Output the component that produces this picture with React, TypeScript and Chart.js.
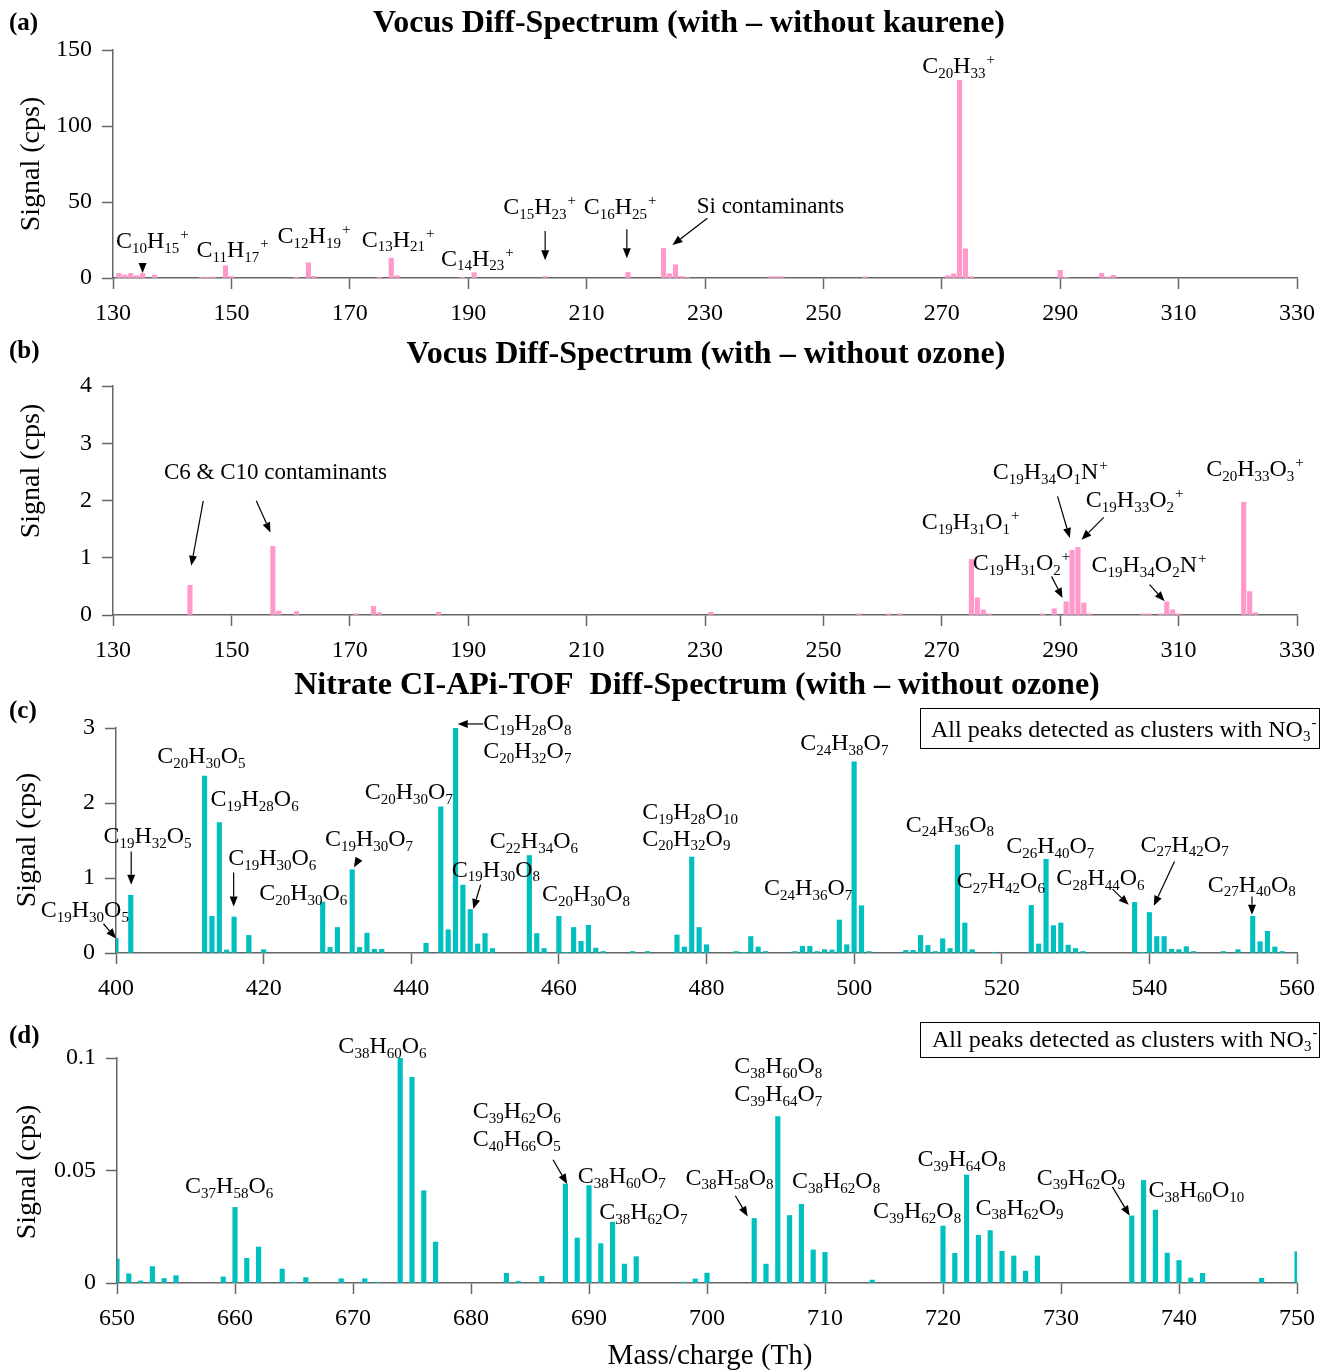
import React, { useEffect, useRef } from 'react';
import { Chart, registerables } from 'chart.js';
Chart.register(...registerables);

const FONT = '"Liberation Serif", "Times New Roman", serif';
const PINK = '#ff99cc';
const CYAN = '#00bfbf';
const AXIS = '#666666';

// ---------- Panel (a) data ----------
const massA = [131,132,133,134,135,137,145,146,147,149,150,161,163,164,175,177,178,189,191,203,217,223,224,225,226,227,241,242,243,257,271,272,273,274,275,290,291,297,298,299];
const sigA = [3,2,3,1.5,3,2,0.5,0.5,0.6,8,1,0.5,10,1,0.5,13,1.5,0.5,3.5,1,3.7,19.4,2.8,8.7,1,0.6,0.9,0.9,0.9,0.8,1.5,2.8,130,19.2,0.9,5,0.5,3,0.7,1.7];

// ---------- Panel (b) data ----------
const massB = [143,157,158,161,171,174,175,185,231,256,261,263,275,276,277,278,287,289,291,292,293,294,295,304,305,307,308,309,310,321,322,323];
const sigB = [0.52,1.2,0.07,0.06,0.02,0.15,0.04,0.05,0.05,0.02,0.02,0.02,0.97,0.30,0.09,0.02,0.02,0.11,0.23,1.13,1.18,0.21,0.02,0.02,0.02,0.02,0.23,0.09,0.02,1.97,0.41,0.04];

// ---------- Panel (c) data ----------
const massC = [400,402,412,413,414,415,416,418,420,428,429,430,432,433,434,435,436,442,444,445,446,447,448,449,450,451,456,457,458,460,461,462,463,464,465,466,470,472,476,477,478,479,480,484,485,486,487,488,492,493,494,495,496,497,498,499,500,501,502,507,508,509,510,511,512,513,514,515,516,519,524,525,526,527,528,529,530,531,538,539,540,541,542,543,544,545,546,550,552,554,555,556,557,558];
const sigC = [0.195,0.77,2.36,0.49,1.74,0.04,0.48,0.235,0.045,0.68,0.075,0.34,1.11,0.075,0.265,0.05,0.05,0.13,1.95,0.31,3.0,0.905,0.58,0.12,0.26,0.06,1.30,0.26,0.06,0.49,0.01,0.34,0.155,0.37,0.065,0.02,0.02,0.02,0.24,0.08,1.28,0.34,0.11,0.02,0.01,0.22,0.08,0.02,0.02,0.09,0.09,0.02,0.045,0.04,0.44,0.11,2.55,0.63,0.02,0.035,0.035,0.235,0.10,0.02,0.19,0.06,1.44,0.40,0.045,0.01,0.635,0.12,1.25,0.365,0.40,0.105,0.06,0.02,0.675,0.01,0.54,0.22,0.22,0.05,0.045,0.085,0.02,0.02,0.045,0.49,0.15,0.29,0.08,0.02];

// ---------- Panel (d) data ----------
const massD = [650,651,652,653,654,655,659,660,661,662,664,665,666,669,671,672,674,675,676,677,683,684,686,688,689,690,691,692,693,694,698,699,700,704,705,706,707,708,709,710,714,720,721,722,723,724,725,726,727,728,736,737,738,739,740,741,742,747,750];
const sigD = [0.0107,0.0041,0.0009,0.0073,0.002,0.0033,0.0027,0.0336,0.011,0.016,0.0062,0.0004,0.0024,0.0019,0.0019,0.0004,0.1,0.0914,0.041,0.0182,0.0043,0.0007,0.003,0.044,0.020,0.0433,0.0175,0.027,0.0084,0.0117,0.0004,0.0018,0.0044,0.0287,0.0084,0.074,0.030,0.035,0.0147,0.0136,0.0013,0.0253,0.0132,0.048,0.0212,0.0233,0.0141,0.012,0.0053,0.012,0.0298,0.0456,0.0324,0.0133,0.010,0.0022,0.0043,0.0021,0.0139];

// ---------- Annotations (data coordinates: mass, signal) ----------
type Lab = { t: string; x: number; y: number };
type Arr = { x1: number; y1: number; x2: number; y2: number };

const labelsA: Lab[] = [
  { t: 'C_{10}H_{15}^{+}', x: 130.5, y: 19.7 },
  { t: 'C_{11}H_{17}^{+}', x: 144.1, y: 13.6 },
  { t: 'C_{12}H_{19}^{+}', x: 157.8, y: 22.8 },
  { t: 'C_{13}H_{21}^{+}', x: 172, y: 20.6 },
  { t: 'C_{14}H_{23}^{+}', x: 185.4, y: 8.1 },
  { t: 'C_{15}H_{23}^{+}', x: 195.9, y: 41.9 },
  { t: 'C_{16}H_{25}^{+}', x: 209.5, y: 41.9 },
  { t: 'Si contaminants', x: 228.6, y: 43 },
  { t: 'C_{20}H_{33}^{+}', x: 266.7, y: 134.7 },
];
const arrowsA: Arr[] = [
  { x1: 135, y1: 9.9, x2: 135, y2: 3.3 },
  { x1: 203, y1: 31, x2: 203, y2: 11.7 },
  { x1: 216.8, y1: 32, x2: 216.8, y2: 13 },
  { x1: 230.4, y1: 39.3, x2: 224.5, y2: 21.7 },
];

const labelsB: Lab[] = [
  { t: 'C6 & C10 contaminants', x: 138.6, y: 2.373 },
  { t: 'C_{19}H_{34}O_{1}N^{+}', x: 278.6, y: 2.379 },
  { t: 'C_{19}H_{33}O_{2}^{+}', x: 294.33, y: 1.879 },
  { t: 'C_{19}H_{31}O_{1}^{+}', x: 266.63, y: 1.507 },
  { t: 'C_{19}H_{31}O_{2}^{+}', x: 275.22, y: 0.791 },
  { t: 'C_{19}H_{34}O_{2}N^{+}', x: 295.28, y: 0.75 },
  { t: 'C_{20}H_{33}O_{3}^{+}', x: 314.66, y: 2.42 },
];
const arrowsB: Arr[] = [
  { x1: 145.25, y1: 1.995, x2: 143.22, y2: 0.861 },
  { x1: 154.2, y1: 1.995, x2: 156.6, y2: 1.443 },
  { x1: 289.55, y1: 2.071, x2: 291.63, y2: 1.344 },
  { x1: 297.36, y1: 1.704, x2: 293.6, y2: 1.315 },
  { x1: 288.54, y1: 0.675, x2: 290.39, y2: 0.297 },
  { x1: 305.1, y1: 0.529, x2: 307.64, y2: 0.239 },
];

const labelsC: Lab[] = [
  { t: 'C_{19}H_{30}O_{5}', x: 389.8, y: 0.483 },
  { t: 'C_{19}H_{32}O_{5}', x: 398.3, y: 1.465 },
  { t: 'C_{20}H_{30}O_{5}', x: 405.6, y: 2.53 },
  { t: 'C_{19}H_{28}O_{6}', x: 412.8, y: 1.961 },
  { t: 'C_{19}H_{30}O_{6}', x: 415.2, y: 1.176 },
  { t: 'C_{20}H_{30}O_{6}', x: 419.4, y: 0.71 },
  { t: 'C_{19}H_{30}O_{7}', x: 428.3, y: 1.429 },
  { t: 'C_{20}H_{30}O_{7}', x: 433.7, y: 2.05 },
  { t: 'C_{19}H_{28}O_{8}', x: 449.75, y: 2.973 },
  { t: 'C_{20}H_{32}O_{7}', x: 449.75, y: 2.597 },
  { t: 'C_{22}H_{34}O_{6}', x: 450.65, y: 1.398 },
  { t: 'C_{19}H_{30}O_{8}', x: 445.5, y: 1.02 },
  { t: 'C_{20}H_{30}O_{8}', x: 457.7, y: 0.687 },
  { t: 'C_{19}H_{28}O_{10}', x: 471.3, y: 1.784 },
  { t: 'C_{20}H_{32}O_{9}', x: 471.3, y: 1.433 },
  { t: 'C_{24}H_{36}O_{7}', x: 487.8, y: 0.776 },
  { t: 'C_{24}H_{38}O_{7}', x: 492.7, y: 2.707 },
  { t: 'C_{24}H_{36}O_{8}', x: 507.0, y: 1.619 },
  { t: 'C_{27}H_{42}O_{6}', x: 513.9, y: 0.865 },
  { t: 'C_{26}H_{40}O_{7}', x: 520.6, y: 1.331 },
  { t: 'C_{28}H_{44}O_{6}', x: 527.4, y: 0.909 },
  { t: 'C_{27}H_{42}O_{7}', x: 538.8, y: 1.353 },
  { t: 'C_{27}H_{40}O_{8}', x: 547.9, y: 0.82 },
];
const arrowsC: Arr[] = [
  { x1: 398.3, y1: 0.39, x2: 400, y2: 0.194 },
  { x1: 402.06, y1: 1.353, x2: 402.06, y2: 0.909 },
  { x1: 415.94, y1: 1.073, x2: 415.94, y2: 0.62 },
  { x1: 432.78, y1: 1.233, x2: 432.24, y2: 1.14 },
  { x1: 449.75, y1: 3.054, x2: 446.3, y2: 3.054 },
  { x1: 449.4, y1: 0.91, x2: 448.4, y2: 0.586 },
  { x1: 535, y1: 0.852, x2: 537.2, y2: 0.643 },
  { x1: 543.4, y1: 1.22, x2: 540.6, y2: 0.63 },
  { x1: 553.9, y1: 0.754, x2: 553.9, y2: 0.51 },
];

const labelsD: Lab[] = [
  { t: 'C_{37}H_{58}O_{6}', x: 655.77, y: 0.04 },
  { t: 'C_{38}H_{60}O_{6}', x: 668.76, y: 0.1022 },
  { t: 'C_{39}H_{62}O_{6}', x: 680.14, y: 0.0733 },
  { t: 'C_{40}H_{66}O_{5}', x: 680.14, y: 0.061 },
  { t: 'C_{38}H_{60}O_{7}', x: 689.04, y: 0.0444 },
  { t: 'C_{38}H_{62}O_{7}', x: 690.87, y: 0.0284 },
  { t: 'C_{38}H_{58}O_{8}', x: 698.17, y: 0.0437 },
  { t: 'C_{38}H_{60}O_{8}', x: 702.3, y: 0.0933 },
  { t: 'C_{39}H_{64}O_{7}', x: 702.3, y: 0.081 },
  { t: 'C_{38}H_{62}O_{8}', x: 707.2, y: 0.0422 },
  { t: 'C_{39}H_{62}O_{8}', x: 714.07, y: 0.0289 },
  { t: 'C_{39}H_{64}O_{8}', x: 717.84, y: 0.0521 },
  { t: 'C_{38}H_{62}O_{9}', x: 722.75, y: 0.0304 },
  { t: 'C_{39}H_{62}O_{9}', x: 727.95, y: 0.0437 },
  { t: 'C_{38}H_{60}O_{10}', x: 737.42, y: 0.0382 },
];
const arrowsD: Arr[] = [
  { x1: 686.95, y1: 0.0548, x2: 688.15, y2: 0.044 },
  { x1: 702.4, y1: 0.0388, x2: 703.45, y2: 0.0296 },
  { x1: 734.36, y1: 0.0427, x2: 735.82, y2: 0.0299 },
];

const TITLE_A = 'Vocus Diff-Spectrum (with – without kaurene)';
const TITLE_B = 'Vocus Diff-Spectrum (with – without ozone)';
const TITLE_C = 'Nitrate CI-APi-TOF  Diff-Spectrum (with – without ozone)';
const LEGEND_NOTE = 'All peaks detected as clusters with NO_{3}^{-}';
const Y_TITLE = 'Signal (cps)';
const X_TITLE = 'Mass/charge (Th)';

// ---------- drawing helpers ----------
function parseRich(s: string) {
  const out: { k: string; t: string }[] = [];
  const re = /_\{([^}]*)\}|\^\{([^}]*)\}|([^_^]+)/g;
  let m: RegExpExecArray | null;
  while ((m = re.exec(s))) {
    if (m[1] !== undefined) out.push({ k: 'sub', t: m[1] });
    else if (m[2] !== undefined) out.push({ k: 'sup', t: m[2] });
    else out.push({ k: 'n', t: m[3] });
  }
  return out;
}

function drawRich(ctx: CanvasRenderingContext2D, s: string, x: number, y: number, size: number) {
  const parts = parseRich(s);
  let cx = x;
  ctx.textAlign = 'left';
  ctx.textBaseline = 'alphabetic';
  ctx.fillStyle = '#000';
  for (const p of parts) {
    if (p.k === 'n') {
      ctx.font = `${size}px ${FONT}`;
      ctx.fillText(p.t, cx, y);
      cx += ctx.measureText(p.t).width;
    } else if (p.k === 'sub') {
      ctx.font = `${Math.round(size * 0.64)}px ${FONT}`;
      ctx.fillText(p.t, cx, y + size * 0.2);
      cx += ctx.measureText(p.t).width;
    } else {
      ctx.font = `${Math.round(size * 0.64)}px ${FONT}`;
      ctx.fillText(p.t, cx + 1, y - size * 0.38);
      cx += ctx.measureText(p.t).width + 1;
    }
  }
}

function drawArrow(ctx: CanvasRenderingContext2D, x1: number, y1: number, x2: number, y2: number) {
  const ang = Math.atan2(y2 - y1, x2 - x1);
  const hl = 10, hw = 4;
  const bx = x2 - hl * Math.cos(ang), by = y2 - hl * Math.sin(ang);
  ctx.strokeStyle = '#000';
  ctx.fillStyle = '#000';
  ctx.lineWidth = 1.2;
  ctx.beginPath();
  ctx.moveTo(x1, y1);
  ctx.lineTo(bx, by);
  ctx.stroke();
  ctx.beginPath();
  ctx.moveTo(x2, y2);
  ctx.lineTo(bx + hw * Math.sin(ang), by - hw * Math.cos(ang));
  ctx.lineTo(bx - hw * Math.sin(ang), by + hw * Math.cos(ang));
  ctx.closePath();
  ctx.fill();
}

type Extra = {
  title?: { text: string; x: number; y: number };
  panel: { text: string; y: number };
  yTitle: { x: number; y: number };
  xTitle?: { x: number; y: number };
  note?: { x1: number; y1: number; x2: number; y2: number; tx: number; ty: number };
};

type PanelCfg = {
  top: number; h: number; padTop: number; xH: number; yW: number; padRight: number;
  xmin: number; xmax: number; xstep: number; ymax: number; ystep: number;
  mass: number[]; sig: number[]; color: string;
  labels: Lab[]; arrows: Arr[]; extra: Extra;
};

const panels: PanelCfg[] = [
  {
    top: 0, h: 340, padTop: 50, xH: 62, yW: 113, padRight: 28,
    xmin: 130, xmax: 330, xstep: 20, ymax: 150, ystep: 50,
    mass: massA, sig: sigA, color: PINK, labels: labelsA, arrows: arrowsA,
    extra: { title: { text: TITLE_A, x: 689, y: 24 }, panel: { text: '(a)', y: 24 }, yTitle: { x: 32, y: 164 } },
  },
  {
    top: 340, h: 330, padTop: 46, xH: 55, yW: 113, padRight: 28,
    xmin: 130, xmax: 330, xstep: 20, ymax: 4, ystep: 1,
    mass: massB, sig: sigB, color: PINK, labels: labelsB, arrows: arrowsB,
    extra: { title: { text: TITLE_B, x: 706, y: 15 }, panel: { text: '(b)', y: 12 }, yTitle: { x: 32, y: 131 } },
  },
  {
    top: 670, h: 340, padTop: 58, xH: 57, yW: 116, padRight: 22,
    xmin: 400, xmax: 560, xstep: 20, ymax: 3, ystep: 1,
    mass: massC, sig: sigC, color: CYAN, labels: labelsC, arrows: arrowsC,
    extra: {
      title: { text: TITLE_C, x: 697, y: 16 }, panel: { text: '(c)', y: 42 }, yTitle: { x: 28, y: 170 },
      note: { x1: 920.5, y1: 38.5, x2: 1319.5, y2: 78.5, tx: 931, ty: 66.5 },
    },
  },
  {
    top: 1010, h: 360, padTop: 48, xH: 87, yW: 117, padRight: 22,
    xmin: 650, xmax: 750, xstep: 10, ymax: 0.1, ystep: 0.05,
    mass: massD, sig: sigD, color: CYAN, labels: labelsD, arrows: arrowsD,
    extra: {
      panel: { text: '(d)', y: 27 }, yTitle: { x: 28, y: 162 }, xTitle: { x: 710, y: 346 },
      note: { x1: 920.5, y1: 12.5, x2: 1319.5, y2: 47.5, tx: 932, ty: 36.5 },
    },
  },
];

function Panel({ cfg }: { cfg: PanelCfg }) {
  const ref = useRef<HTMLCanvasElement | null>(null);
  useEffect(() => {
    const canvas = ref.current;
    if (!canvas) return;
    const annot = {
      id: 'annot',
      afterDraw(chart: any) {
        const ctx: CanvasRenderingContext2D = chart.ctx;
        const xs = chart.scales.x, ys = chart.scales.y;
        ctx.save();
        for (const a of cfg.arrows) {
          drawArrow(ctx, xs.getPixelForValue(a.x1), ys.getPixelForValue(a.y1), xs.getPixelForValue(a.x2), ys.getPixelForValue(a.y2));
        }
        for (const l of cfg.labels) {
          const plain = l.t.indexOf('_') < 0 && l.t.indexOf('^') < 0;
          drawRich(ctx, l.t, xs.getPixelForValue(l.x), ys.getPixelForValue(l.y), plain ? 23 : 24);
        }
        const e = cfg.extra;
        ctx.fillStyle = '#000';
        if (e.title) {
          ctx.font = `bold 32px ${FONT}`;
          ctx.textAlign = 'center';
          ctx.textBaseline = 'middle';
          ctx.fillText(e.title.text, e.title.x, e.title.y);
        }
        ctx.font = `bold 25px ${FONT}`;
        ctx.textAlign = 'left';
        ctx.textBaseline = 'middle';
        ctx.fillText(e.panel.text, 9, e.panel.y);
        ctx.save();
        ctx.translate(e.yTitle.x, e.yTitle.y);
        ctx.rotate(-Math.PI / 2);
        ctx.font = `28px ${FONT}`;
        ctx.textAlign = 'center';
        ctx.textBaseline = 'middle';
        ctx.fillText(Y_TITLE, 0, 0);
        ctx.restore();
        if (e.xTitle) {
          ctx.font = `29px ${FONT}`;
          ctx.textAlign = 'center';
          ctx.textBaseline = 'middle';
          ctx.fillText(X_TITLE, e.xTitle.x, e.xTitle.y);
        }
        if (e.note) {
          ctx.strokeStyle = '#000';
          ctx.lineWidth = 1;
          ctx.strokeRect(e.note.x1, e.note.y1, e.note.x2 - e.note.x1, e.note.y2 - e.note.y1);
          drawRich(ctx, LEGEND_NOTE, e.note.tx, e.note.ty, 24);
        }
        ctx.restore();
      },
    };
    const tickFont = { family: FONT, size: 24 };
    const chart = new Chart(canvas, {
      type: 'bar',
      data: {
        datasets: [{
          data: cfg.mass.map((m, i) => ({ x: m, y: cfg.sig[i] })),
          backgroundColor: cfg.color,
          borderWidth: 0,
          barThickness: 4.5,
        }],
      },
      options: {
        responsive: false,
        animation: false,
        devicePixelRatio: 1,
        layout: { padding: { top: cfg.padTop, right: cfg.padRight, left: 0, bottom: 0 } },
        plugins: { legend: { display: false }, tooltip: { enabled: false }, title: { display: false } },
        scales: {
          x: {
            type: 'linear', min: cfg.xmin, max: cfg.xmax, offset: false,
            afterFit: (s: any) => { s.height = cfg.xH; },
            ticks: { stepSize: cfg.xstep, font: tickFont, color: '#000', padding: 10, maxRotation: 0, autoSkip: false },
            grid: { offset: false, drawOnChartArea: false, drawTicks: true, tickLength: 11, tickColor: AXIS, tickWidth: 1.5 },
            border: { display: true, color: AXIS, width: 1.5 },
          },
          y: {
            type: 'linear', min: 0, max: cfg.ymax,
            afterFit: (s: any) => { s.width = cfg.yW; },
            ticks: {
              stepSize: cfg.ystep, font: tickFont, color: '#000', padding: 10,
              callback: (v: any) => String(+Number(v).toFixed(3)),
            },
            grid: { drawOnChartArea: false, drawTicks: true, tickLength: 11, tickColor: AXIS, tickWidth: 1.5 },
            border: { display: true, color: AXIS, width: 1.5 },
          },
        },
      } as any,
      plugins: [annot],
    });
    return () => chart.destroy();
  }, [cfg]);
  return (
    <canvas
      ref={ref}
      width={1325}
      height={cfg.h}
      style={{ position: 'absolute', left: 0, top: cfg.top, width: 1325, height: cfg.h }}
    />
  );
}

export default function App() {
  return (
    <div style={{ position: 'absolute', left: 0, top: 0, width: 1325, height: 1370, background: '#fff', overflow: 'hidden' }}>
      {panels.map((p, i) => <Panel key={i} cfg={p} />)}
    </div>
  );
}
